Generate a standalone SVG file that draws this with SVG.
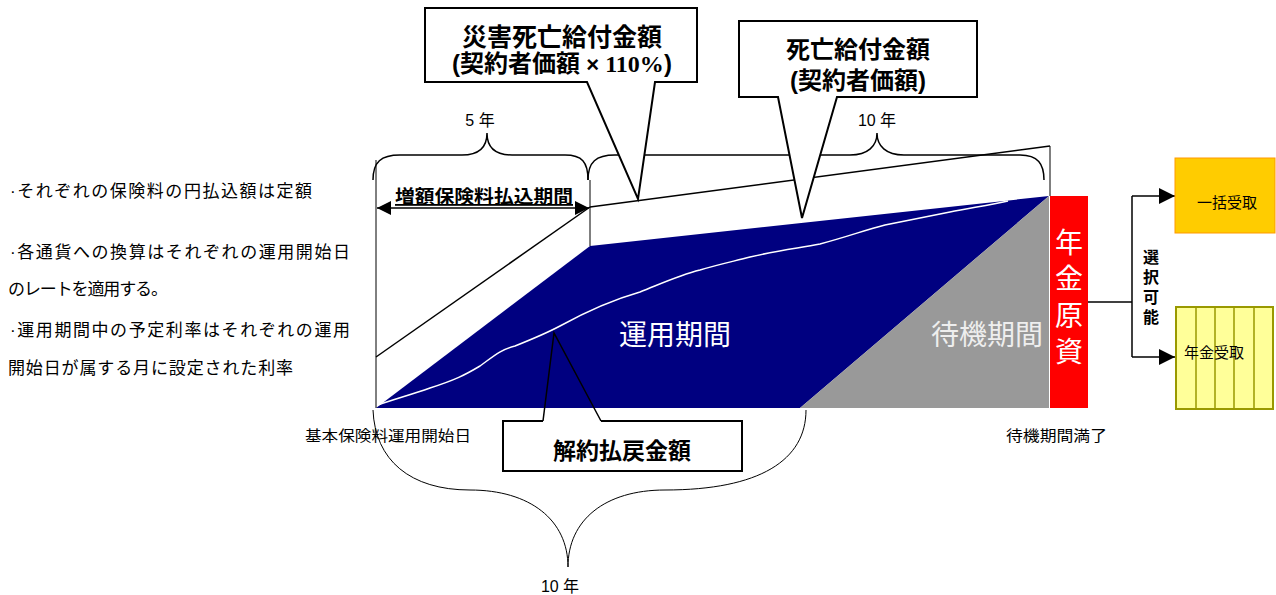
<svg xmlns="http://www.w3.org/2000/svg" width="1276" height="595" viewBox="0 0 1276 595">
<style>
text{font-family:"Liberation Sans","Noto Sans CJK JP",sans-serif;fill:#000}
.ln{fill:none;stroke:#000;stroke-width:1.5}
.thin{fill:none;stroke:#000;stroke-width:1}
.call{fill:#fff;stroke:#000;stroke-width:2}
.b{font-weight:bold}
.w{fill:#fff}
</style>
<defs>
<marker id="ah" viewBox="0 0 10 10" refX="10" refY="5" markerWidth="14" markerHeight="14" markerUnits="userSpaceOnUse" orient="auto-start-reverse"><path d="M0,0 L10,5 L0,10 Z" fill="#000"/></marker>
<marker id="ah2" viewBox="0 0 10 10" refX="10" refY="5" markerWidth="16" markerHeight="16" markerUnits="userSpaceOnUse" orient="auto"><path d="M0,0 L10,5 L0,10 Z" fill="#000"/></marker>
</defs>
<rect width="1276" height="595" fill="#fff"/>

<g id="notes" font-size="17">
<text x="10" y="197" textLength="302" lengthAdjust="spacing">·それぞれの保険料の円払込額は定額</text>
<text x="10" y="258" textLength="340" lengthAdjust="spacing">·各通貨への換算はそれぞれの運用開始日</text>
<text x="8" y="295" textLength="160" lengthAdjust="spacing">のレートを適用する。</text>
<text x="10" y="336" textLength="340" lengthAdjust="spacing">·運用期間中の予定利率はそれぞれの運用</text>
<text x="8" y="374" textLength="285" lengthAdjust="spacing">開始日が属する月に設定された利率</text>
</g>

<g id="chart">
<polygon points="376,408 590,246 1049,196 800,408" fill="#000080"/>
<polygon points="800,408 1049,196 1049,408" fill="#999999"/>
<path d="M378,405 C395,399 410,395 430,388 C455,380 465,375 480,366 C495,355 500,350 515,346 C535,338 545,334 560,326 C580,315 605,302 640,292 C665,282 680,275 700,270 C720,264 735,261 750,257 C780,250 800,248 820,244 C850,236 865,230 885,225 C910,220 930,216 950,212 C970,208 990,205 1008,201" fill="none" stroke="#fff" stroke-width="1.5"/>
<text x="675" y="345" class="w" font-size="28" text-anchor="middle">運用期間</text>
<text x="987" y="345" font-size="28" text-anchor="middle" style="fill:#eeeeee">待機期間</text>
</g>

<g id="lines">
<line x1="376" y1="160" x2="376" y2="408" class="thin"/>
<line x1="590" y1="180" x2="590" y2="246" class="thin"/>
<line x1="1050" y1="146" x2="1050" y2="196" class="thin"/>
<line x1="376" y1="357" x2="590" y2="207" class="ln"/>
<line x1="590" y1="207" x2="1050" y2="146" class="ln"/>
<line x1="377" y1="208" x2="589" y2="208" class="ln" marker-start="url(#ah)" marker-end="url(#ah)"/>
<text x="395" y="203" class="b" font-size="18" textLength="178" lengthAdjust="spacingAndGlyphs" text-decoration="underline">増額保険料払込期間</text>
</g>

<g id="braces">
<path d="M373,180 C373,162 381,155 400,155 L462,155 C480,155 487,146 487,133 C487,146 494,155 512,155 L565,155 C582,155 588,162 588,180" class="ln"/>
<path d="M588,180 C588,162 596,155 615,155 L850,155 C868,155 877,146 877,133 C877,146 886,155 904,155 L1020,155 C1038,155 1044,164 1044,180" class="ln"/>
<path d="M373,410 C375,460 410,490 470,490 C530,490 568,520 568,567 C568,520 605,490 665,490 C760,490 806,460 806,410" class="thin"/>
<text x="480" y="126" font-size="16" text-anchor="middle">5 年</text>
<text x="877" y="126" font-size="16" text-anchor="middle">10 年</text>
<text x="560" y="592" font-size="16" text-anchor="middle">10 年</text>
</g>

<g id="callout-saigai">
<path d="M425,8 L697,8 L697,82 L655,82 L638,199 L587,82 L425,82 Z" class="call"/>
<text x="562" y="46" class="b" font-size="25" text-anchor="middle">災害死亡給付金額</text>
<text x="562" y="72" class="b" font-size="24" text-anchor="middle">(契約者価額<tspan font-size="22"> × </tspan><tspan font-family="Liberation Serif,serif">110%</tspan>)</text>
</g>

<g id="callout-shibo">
<path d="M739,21 L977,21 L977,97 L837,97 L802,218 L778,97 L739,97 Z" class="call"/>
<text x="858" y="58" class="b" font-size="24" text-anchor="middle">死亡給付金額</text>
<text x="858" y="89" class="b" font-size="24" text-anchor="middle">(契約者価額)</text>
</g>

<g id="callout-kaiyaku">
<rect x="503" y="421" width="239" height="50" fill="#fff"/>
<path d="M601,421 L742,421 L742,471 L503,471 L503,421 L543,421" class="call" style="fill:none"/>
<path d="M543,421 L554,333 L601,421" class="ln"/>
<text x="622" y="459" class="b" font-size="23" text-anchor="middle">解約払戻金額</text>
</g>

<g id="axis-labels" font-size="15">
<text x="305" y="441" textLength="166" lengthAdjust="spacingAndGlyphs">基本保険料運用開始日</text>
<text x="1006" y="441" textLength="101" lengthAdjust="spacingAndGlyphs">待機期間満了</text>
</g>

<g id="nenkin-genshi">
<rect x="1050" y="196" width="38" height="212" fill="#ff0000"/>
<g font-size="28" text-anchor="middle">
<text x="1069" y="253" class="w">年</text>
<text x="1069" y="289" class="w">金</text>
<text x="1069" y="326" class="w">原</text>
<text x="1069" y="362" class="w">資</text>
</g>
</g>

<g id="connectors">
<path d="M1088,302 L1132,302" class="ln" stroke-width="2"/>
<path d="M1132,196 L1132,357" class="ln" stroke-width="2"/>
<path d="M1132,196 L1175,196" class="ln" stroke-width="2" marker-end="url(#ah2)"/>
<path d="M1132,357 L1175,357" class="ln" stroke-width="2" marker-end="url(#ah2)"/>
<g class="b" font-size="16" text-anchor="middle">
<text x="1151" y="263">選</text>
<text x="1151" y="283">択</text>
<text x="1151" y="303">可</text>
<text x="1151" y="323">能</text>
</g>
</g>

<g id="ikkatsu">
<rect x="1175" y="158" width="100" height="75" fill="#ffcc00" stroke="#ff9900" stroke-width="1"/>
<text x="1227" y="208" font-size="15" text-anchor="middle">一括受取</text>
</g>

<g id="nenkin-uketori">
<rect x="1176" y="307" width="97" height="102" fill="#ffff99" stroke="#999900" stroke-width="2"/>
<path d="M1196,307 V409 M1215,307 V409 M1234,307 V409 M1254,307 V409" stroke="#999900" stroke-width="1.5"/>
<text x="1214" y="358" font-size="15" text-anchor="middle">年金受取</text>
</g>
</svg>
